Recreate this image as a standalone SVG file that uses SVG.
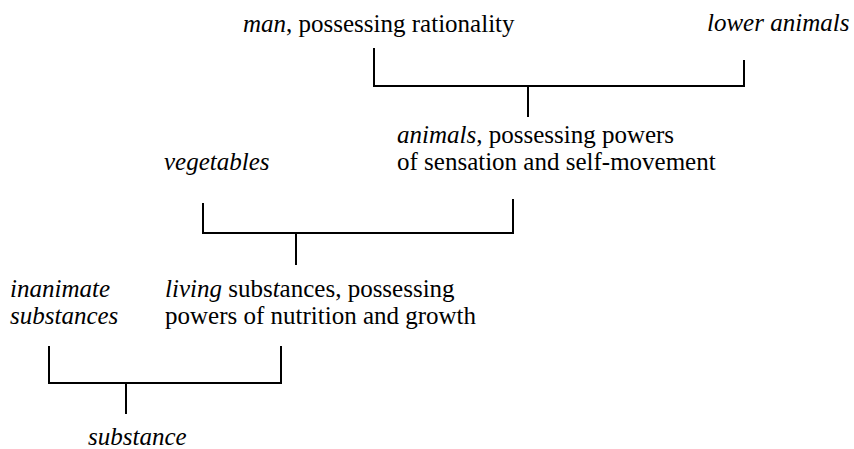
<svg xmlns="http://www.w3.org/2000/svg" width="854" height="449" viewBox="0 0 854 449">
<defs>
<style type="text/css">
.t{font-family:"Liberation Serif",Tinos,"Times New Roman",Times,serif;font-size:25px;fill:#000}
.i{font-style:italic}
.c line{stroke:#000;stroke-width:2;stroke-linecap:butt}
</style>
</defs>
<rect width="854" height="449" fill="#fff"/>
<g id="man"><text class="t" x="243" y="32" style="font-family:'Liberation Serif',serif"><tspan class="i">man</tspan>, possessing rationality</text></g>
<g id="lower-animals"><text class="t i" x="707" y="31" style="font-family:'Liberation Serif',serif">lower animals</text></g>
<g id="animals"><text class="t" x="397" y="143" style="font-family:'Liberation Serif',serif"><tspan class="i">animals</tspan>, possessing powers</text><text class="t" x="397" y="170" style="font-family:'Liberation Serif',serif">of sensation and self-movement</text></g>
<g id="vegetables"><text class="t i" x="164" y="170" style="font-family:'Liberation Serif',serif">vegetables</text></g>
<g id="living"><text class="t" x="165" y="297" style="font-family:'Liberation Serif',serif"><tspan class="i">living</tspan> subs<tspan class="i">t</tspan>ances, possessing</text><text class="t" x="165" y="324" style="font-family:'Liberation Serif',serif">powers of nutrition and growth</text></g>
<g id="inanimate"><text class="t i" x="10" y="297" style="font-family:'Liberation Serif',serif">inanimate</text><text class="t i" x="10" y="324" style="font-family:'Liberation Serif',serif">substances</text></g>
<g id="substance"><text class="t i" x="88" y="445" style="font-family:'Liberation Serif',serif">substance</text></g>
<g id="connectors" class="c">
<line x1="374" y1="48" x2="374" y2="86"/>
<line x1="744" y1="60" x2="744" y2="86"/>
<line x1="373" y1="86" x2="745" y2="86"/>
<line x1="528" y1="86" x2="528" y2="117"/>
<line x1="203" y1="203" x2="203" y2="233"/>
<line x1="513" y1="199" x2="513" y2="233"/>
<line x1="202" y1="233" x2="514" y2="233"/>
<line x1="296" y1="233" x2="296" y2="265"/>
<line x1="49" y1="346" x2="49" y2="383"/>
<line x1="281" y1="346" x2="281" y2="383"/>
<line x1="48" y1="383" x2="282" y2="383"/>
<line x1="126" y1="383" x2="126" y2="414"/>
</g>
</svg>
